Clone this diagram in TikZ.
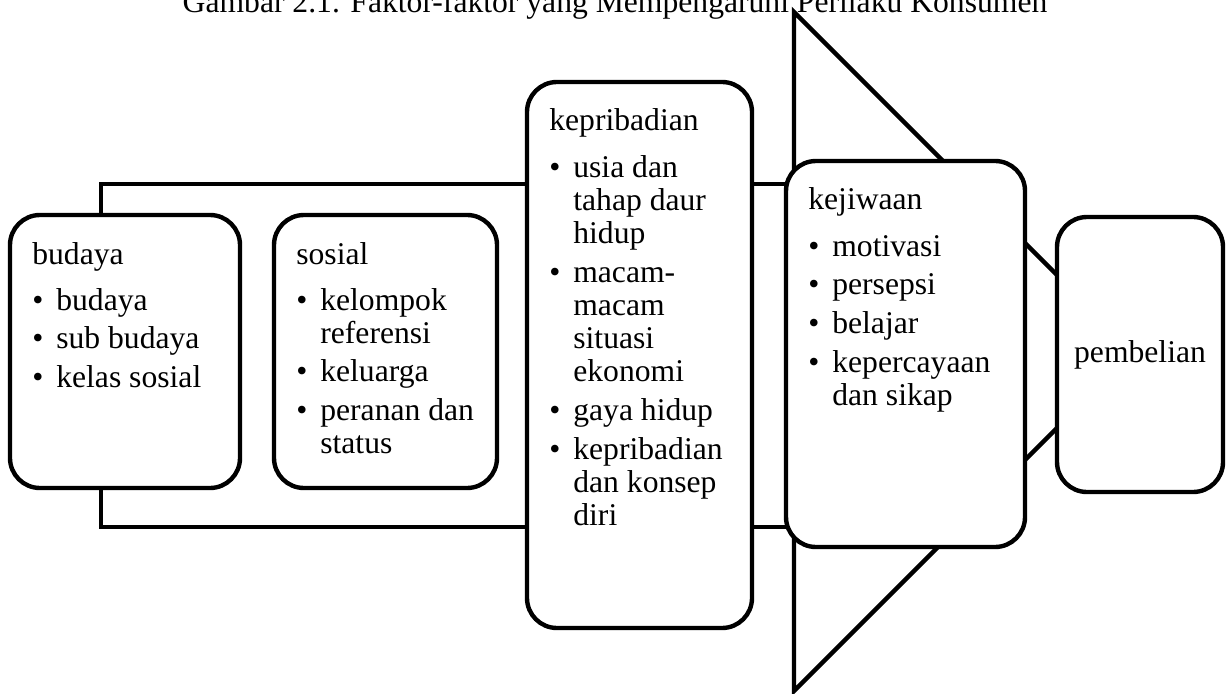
\documentclass[tikz,border=0pt]{standalone}
\usepackage{fontspec}
\setmainfont{Liberation Serif}
\usepackage{tikz}
\usetikzlibrary{positioning}

\newcommand{\bul}[1]{\makebox[0.48cm][l]{\textbullet}#1}
\newcommand{\cont}[1]{\hspace*{0.48cm}#1}
\newcommand{\factorlist}[1]{\begin{tabular}[t]{@{}l@{}}#1\end{tabular}}

\begin{document}
\begin{tikzpicture}
    [
        factorbox/.style={rectangle, rounded corners=0.6cm, draw=black, fill=white, line width=2.5pt, inner sep=0pt, outer sep=0pt, font=\fontsize{18pt}{18.9pt}\selectfont},
        factortext/.style={anchor=base west, inner sep=0pt, font=\fontsize{18pt}{18.9pt}\selectfont},
        link/.style={draw=black, line width=2.5pt},
    ]

    \useasboundingbox (0,0) rectangle (24.52,-13.86);
    \clip (0,0) rectangle (24.52,-13.86);

    \node[anchor=base, font=\fontsize{18pt}{18.9pt}\selectfont] (texttitle) at(12.3,-0.26) {Gambar 2.1. Faktor-faktor yang Mempengaruhi Perilaku Konsumen};

    %% BIG ARROW BEHIND
    \draw[link] (15.88,-0.24) -- (22.67,-7.03) -- (15.88,-13.82) -- cycle;

    %% BOXES
    \node[factorbox, minimum width=4.6cm, minimum height=5.46cm] (budaya) at(2.5,-7.03) {};
    \node[factorbox, minimum width=4.46cm, minimum height=5.46cm] (sosial) [right=0.68cm of budaya] {};
    \node[factorbox, minimum width=4.5cm, minimum height=10.92cm] (kepribadian) at(12.79,-7.1) {};
    \node[factorbox, minimum width=4.78cm, minimum height=7.72cm] (kejiwaan) at(18.11,-7.08) {};
    \node[factorbox, minimum width=3.32cm, minimum height=5.5cm] (pembelian) at(22.8,-7.09) {pembelian};

    %% TEXTS
    \node[factortext] (budayatext) at([shift={(0.44,-0.98)}]budaya.north west)
        {\factorlist{budaya\\[7.3pt] \bul{budaya}\\[3.1pt] \bul{sub budaya}\\[3.1pt] \bul{kelas sosial}}};
    \node[factortext] (sosialtext) at([shift={(0.44,-0.98)}]sosial.north west)
        {\factorlist{sosial\\[7.3pt] \bul{kelompok}\\ \cont{referensi}\\[3.1pt] \bul{keluarga}\\[3.1pt] \bul{peranan dan}\\ \cont{status}}};
    \node[factortext] (kepribadiantext) at([shift={(0.44,-0.98)}]kepribadian.north west)
        {\factorlist{kepribadian\\[7.3pt] \bul{usia dan}\\ \cont{tahap daur}\\ \cont{hidup}\\[3.1pt] \bul{macam-}\\ \cont{macam}\\ \cont{situasi}\\ \cont{ekonomi}\\[3.1pt] \bul{gaya hidup}\\[3.1pt] \bul{kepribadian}\\ \cont{dan konsep}\\ \cont{diri}}};
    \node[factortext] (kejiwaantext) at([shift={(0.44,-0.98)}]kejiwaan.north west)
        {\factorlist{kejiwaan\\[7.3pt] \bul{motivasi}\\[3.1pt] \bul{persepsi}\\[3.1pt] \bul{belajar}\\[3.1pt] \bul{kepercayaan}\\ \cont{dan sikap}}};

    %% LINKS
    \coordinate (upperlink) at([yshift=3.42cm]kepribadian.west);
    \coordinate (lowerlink) at([yshift=-3.44cm]kepribadian.west);
    \draw[link] ([xshift=-0.48cm]budaya.north) |- (upperlink);
    \draw[link] ([xshift=-0.48cm]budaya.south) |- (lowerlink);
    \draw[link] (kepribadian.east |- upperlink) -- (kejiwaan.west |- upperlink);
    \draw[link] (kepribadian.east |- lowerlink) -- (kejiwaan.west |- lowerlink);

\end{tikzpicture}
\end{document}
